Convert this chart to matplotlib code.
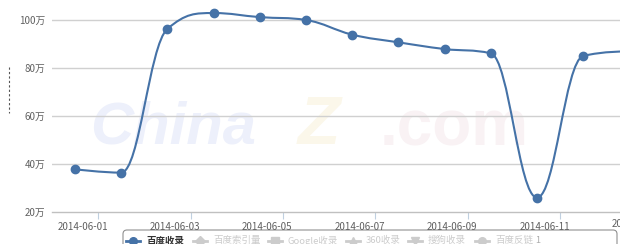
import numpy as np
import pandas as pd
import matplotlib
matplotlib.use('Agg')
import matplotlib.pyplot as plt
import matplotlib.dates as mdates
from matplotlib.path import Path
from matplotlib.patches import PathPatch, FancyBboxPatch
from matplotlib.transforms import offset_copy, blended_transform_factory

plt.rcParams['font.family'] = ['Noto Sans CJK SC', 'DejaVu Sans']

# данные:收录 по дням (万)
dates = ['2014-06-01', '2014-06-02', '2014-06-03', '2014-06-04', '2014-06-05',
         '2014-06-06', '2014-06-07', '2014-06-08', '2014-06-09', '2014-06-10',
         '2014-06-11', '2014-06-12', '2014-06-13']
values = [37.8, 36.4, 96.3, 102.9, 101.2, 100.0, 93.9, 90.7, 87.9, 86.1, 26.0, 85.0, 87.0]
tick_dates = ['2014-06-01', '2014-06-03', '2014-06-05', '2014-06-07',
              '2014-06-09', '2014-06-11']
edge_tick = '2014-06-13'
y_ticks = [20, 40, 60, 80, 100]
legend_names = ['百度收录', '百度索引量', 'Google收录', '360收录', '搜狗收录', '百度反链']

BLUE = '#4572A7'


def spline_path(xs, ys, smoothing=1.5):
    # сглаживание как у highcharts spline
    n = len(xs)
    lc = [(x, y) for x, y in zip(xs, ys)]
    rc = [(x, y) for x, y in zip(xs, ys)]
    denom = smoothing + 1
    for i in range(1, n - 1):
        x, y = xs[i], ys[i]
        lx, ly = xs[i - 1], ys[i - 1]
        nx, ny = xs[i + 1], ys[i + 1]
        lcx = (smoothing * x + lx) / denom
        lcy = (smoothing * y + ly) / denom
        rcx = (smoothing * x + nx) / denom
        rcy = (smoothing * y + ny) / denom
        corr = ((rcy - lcy) * (rcx - x)) / (rcx - lcx) + y - rcy
        lcy += corr
        rcy += corr
        if lcy > ly and lcy > y:
            lcy = max(ly, y)
            rcy = 2 * y - lcy
        elif lcy < ly and lcy < y:
            lcy = min(ly, y)
            rcy = 2 * y - lcy
        if rcy > ny and rcy > y:
            rcy = max(ny, y)
            lcy = 2 * y - rcy
        elif rcy < ny and rcy < y:
            rcy = min(ny, y)
            lcy = 2 * y - rcy
        lc[i] = (lcx, lcy)
        rc[i] = (rcx, rcy)
    verts = [(xs[0], ys[0])]
    codes = [Path.MOVETO]
    for i in range(1, n):
        verts += [rc[i - 1], lc[i], (xs[i], ys[i])]
        codes += [Path.CURVE4] * 3
    return Path(verts, codes)


x = mdates.date2num(pd.to_datetime(dates))
ticks = mdates.date2num(pd.to_datetime(tick_dates)) + 0.5

W, H = 620, 244
fig = plt.figure(figsize=(W / 100, H / 100), dpi=100)

# фон: водяной знак, легенда (в пикселях)
bg = fig.add_axes([0, 0, 1, 1], zorder=0)
bg.set_xlim(0, W)
bg.set_ylim(H, 0)
bg.axis('off')
bg.text(90, 143, 'China', fontsize=43, fontweight='bold', style='italic',
        family='Liberation Sans', color='#EDF0FB', va='baseline', ha='left')
bg.text(298, 144, 'Z', fontsize=50, fontweight='bold', style='italic',
        family='Liberation Sans', color='#FBF7EA', va='baseline', ha='left')
bg.text(380, 145, '.com', fontsize=46, fontweight='bold',
        family='Liberation Sans', color='#F9F2F4', va='baseline', ha='left')
bg.plot([9, 9], [67, 113], color='#555555', lw=0.8, ls=(0, (2, 2)))

box = FancyBboxPatch((123, 230), 494, 30, boxstyle='round,pad=0,rounding_size=4',
                     fc='white', ec='#909090', lw=0.8)
bg.add_patch(box)
sym_x = [133, 200, 275, 353, 415, 482]
markers = ['o', 'D', 's', '^', 'v', 'o']
for i, name in enumerate(legend_names):
    col = BLUE if i == 0 else '#CCCCCC'
    tcol = '#333333' if i == 0 else '#CCCCCC'
    bg.plot([sym_x[i] - 7, sym_x[i] + 7], [241, 241], color=col, lw=2)
    bg.plot([sym_x[i]], [241], marker=markers[i], color=col, ms=5.5)
    bg.text(sym_x[i] + 13, 240.5, name, fontsize=6.8, color=tcol,
            va='center', ha='left', fontweight='bold' if i == 0 else 'normal')
bg.text(535, 240.5, '1', fontsize=6.5, color='#AAAAAA', va='center')

# основной график
ax = fig.add_axes([52 / W, 32 / H, 1 - 52 / W, 1 - 32 / H], zorder=1)
ax.patch.set_alpha(0)

for v in y_ticks[1:] + [120]:
    ax.axhline(v, color='#D0D0D0', lw=1, zorder=1)

patch = PathPatch(spline_path(list(x), values), fc='none', ec=BLUE, lw=1.5, zorder=3,
                  clip_on=True)
ax.add_patch(patch)
ax.plot(x, values, 'o', color=BLUE, ms=6, zorder=4, clip_on=True)

for s in ['top', 'right', 'left']:
    ax.spines[s].set_visible(False)
ax.spines['bottom'].set_color('#C0C0C0')
ax.spines['bottom'].set_linewidth(1)

ax.set_yticks(y_ticks)
ax.set_yticklabels([f'{v}万' for v in y_ticks], fontsize=7, color='#606060')
ax.tick_params(axis='y', length=0, pad=5)

ax.set_xticks(ticks)
ax.set_xticklabels(tick_dates, fontsize=7, color='#606060')
ax.tick_params(axis='x', length=5, color='#C0D0E0', pad=2, direction='out')
for lab in ax.get_xticklabels():
    lab.set_transform(offset_copy(lab.get_transform(), fig=fig, x=-15.5, y=0, units='dots'))

# последняя подпись за краем, видна только частично
edge_x = mdates.date2num(pd.to_datetime(edge_tick)) + 0.5
tr = blended_transform_factory(ax.transData, ax.transAxes)
ax.text(edge_x, 0, edge_tick, fontsize=7, color='#606060', ha='center', va='top',
        clip_on=False,
        transform=offset_copy(tr, fig=fig, x=-15.5, y=-7, units='dots'))

# пределы после тиков, иначе set_ticks их расширяет
ax.set_xlim(x[0] - 23 / 46.2, x[0] + 545 / 46.2)
ax.set_ylim(20, 20 + 212 / 2.4)

fig.savefig('out.png', dpi=100)
